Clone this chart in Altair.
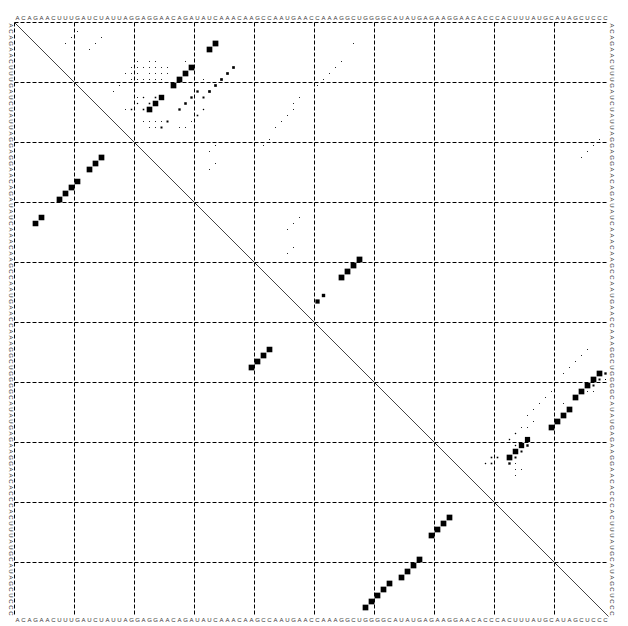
import math
import altair as alt
import pandas as pd

# RNA sequence (5' -> 3')
sequence = "ACAGAACUUUGAUCUAUUAGGAGGAACAGAUAUCAAACAAGCCAAUGAACCAAAGGCUGGGGCAUAUGAGAAGGAACACCCACUUUAUGCAUAGCUCCC"

# MFE structure pairs (lower-left triangle)
mfe_i = [4, 5, 8, 9, 10, 11, 13, 14, 15, 40, 41, 42, 43,
         59, 60, 61, 62, 63, 65, 66, 67, 68, 70, 71, 72, 73]
mfe_j = [34, 33, 30, 29, 28, 27, 25, 24, 23, 58, 57, 56, 55,
         98, 97, 96, 95, 94, 93, 92, 91, 90, 86, 85, 84, 83]

# base pair probabilities (upper-right triangle)
bp_i = [4, 5, 8, 9, 10, 11, 13, 14, 15, 40, 41, 42, 43,
        59, 60, 61, 62, 63, 65, 66, 67, 68, 70, 71, 72, 73,
        46, 47,
        8, 9, 10, 11, 12, 13, 12, 13, 14, 15, 15, 16, 17, 18,
        13, 13, 14, 15, 14, 15, 13, 15,
        59, 60, 61, 71, 72, 73, 74, 73, 73, 74, 74, 71, 70, 69,
        2, 3, 4, 3, 4, 5,
        7, 7, 7, 7, 8, 8, 8, 8, 8, 8, 8, 9, 9, 9, 9, 9, 9, 9,
        10, 10, 10, 10, 10, 10, 10, 11, 12,
        17, 17, 17, 17, 17, 18, 18, 18, 18,
        4, 7, 8, 9, 10, 11, 13, 14, 15, 16, 17, 18, 20, 21,
        20, 21, 22, 23, 21, 22, 24, 25,
        33, 34, 35, 38, 39,
        55, 56, 57, 58, 59, 62, 63, 64, 65, 64, 62, 62, 66, 67,
        68, 68, 74, 75, 75, 76, 60]
bp_j = [34, 33, 30, 29, 28, 27, 25, 24, 23, 58, 57, 56, 55,
        98, 97, 96, 95, 94, 93, 92, 91, 90, 86, 85, 84, 83,
        52, 51,
        37, 36, 35, 34, 33, 32, 31, 30, 29, 28, 32, 31, 26, 25,
        24, 22, 23, 22, 21, 20, 21, 19,
        99, 98, 97, 86, 85, 84, 83, 81, 80, 79, 80, 84, 83, 84,
        11, 10, 9, 15, 14, 13,
        21, 23, 24, 29, 20, 21, 22, 23, 24, 25, 26, 19, 20, 21, 23, 24, 25, 26,
        20, 21, 22, 23, 24, 25, 32, 18, 17,
        22, 23, 24, 25, 30, 23, 24, 28, 29,
        57, 55, 54, 53, 52, 51, 48, 47, 47, 46, 45, 44, 43, 42,
        98, 97, 96, 95, 34, 33, 34, 33,
        48, 47, 46, 47, 46,
        96, 95, 94, 93, 92, 90, 89, 88, 87, 92, 96, 97, 86, 87,
        85, 86, 84, 84, 85, 84, 99]
bp_p = [0.92, 0.9, 0.9, 0.9, 0.9, 0.9, 0.82, 0.86, 0.88, 0.92, 0.92, 0.92, 0.92,
        0.9, 0.9, 0.9, 0.9, 0.9, 0.9, 0.9, 0.9, 0.9, 0.75, 0.8, 0.85, 0.9,
        0.32, 0.5,
        0.2, 0.2, 0.2, 0.2, 0.2, 0.11, 0.15, 0.15, 0.18, 0.15, 0.05, 0.07, 0.11, 0.11,
        0.07, 0.05, 0.07, 0.07, 0.04, 0.06, 0.02, 0.02,
        0.15, 0.11, 0.11, 0.15, 0.11, 0.11, 0.15, 0.07, 0.07, 0.05, 0.07, 0.05, 0.05, 0.05,
        0.02, 0.02, 0.02, 0.02, 0.02, 0.02,
        0.02, 0.02, 0.02, 0.02, 0.02, 0.02, 0.02, 0.02, 0.02, 0.02, 0.02,
        0.02, 0.02, 0.02, 0.02, 0.02, 0.02, 0.02,
        0.02, 0.02, 0.02, 0.02, 0.02, 0.02, 0.02, 0.02, 0.02,
        0.02, 0.02, 0.02, 0.02, 0.02, 0.02, 0.02, 0.02, 0.02,
        0.02, 0.02, 0.02, 0.02, 0.02, 0.02, 0.02, 0.02, 0.02, 0.02, 0.02, 0.02, 0.02, 0.02,
        0.02, 0.02, 0.02, 0.02, 0.02, 0.02, 0.02, 0.02,
        0.02, 0.02, 0.02, 0.02, 0.02,
        0.02, 0.02, 0.02, 0.02, 0.02, 0.02, 0.02, 0.02, 0.02, 0.02, 0.02, 0.02, 0.02, 0.02,
        0.02, 0.02, 0.02, 0.02, 0.02, 0.02, 0.03]

grid_pos = [0.5, 10.5, 20.5, 30.5, 40.5, 50.5, 60.5, 70.5, 80.5, 90.5]
mfe_box = 0.95

n = len(sequence)
lo, hi = 0.5, n + 0.5

# boxes table
rows = []
for i, j, p in zip(bp_i, bp_j, bp_p):
    h = math.sqrt(p) / 2
    rows.append({"x1": j - h, "x2": j + h, "y1": i - h, "y2": i + h})
for i, j in zip(mfe_i, mfe_j):
    h = mfe_box / 2
    rows.append({"x1": i - h, "x2": i + h, "y1": j - h, "y2": j + h})
boxes = pd.DataFrame(rows)

nts = pd.DataFrame({"pos": list(range(1, n + 1)), "nt": list(sequence)})
grid = pd.DataFrame({"g": grid_pos, "lo": lo, "hi": hi})
diag = pd.DataFrame({"a": [lo], "b": [hi]})

W = 594
sx = alt.Scale(domain=[lo, hi], nice=False, zero=False)
sy = alt.Scale(domain=[lo, hi], nice=False, zero=False, reverse=True)

box_layer = alt.Chart(boxes).mark_rect(color="black", strokeWidth=0).encode(
    x=alt.X("x1:Q", scale=sx, axis=None), x2="x2:Q",
    y=alt.Y("y1:Q", scale=sy, axis=None), y2="y2:Q")

vgrid = alt.Chart(grid).mark_rule(color="black", strokeWidth=1, strokeDash=[4, 2]).encode(
    x=alt.X("g:Q", scale=sx, axis=None),
    y=alt.Y("lo:Q", scale=sy, axis=None), y2="hi:Q")
hgrid = alt.Chart(grid).mark_rule(color="black", strokeWidth=1, strokeDash=[4, 2]).encode(
    y=alt.Y("g:Q", scale=sy, axis=None),
    x=alt.X("lo:Q", scale=sx, axis=None), x2="hi:Q")

diag_layer = alt.Chart(diag).mark_rule(color="#444444", strokeWidth=1).encode(
    x=alt.X("a:Q", scale=sx, axis=None), y=alt.Y("a:Q", scale=sy, axis=None),
    x2="b:Q", y2="b:Q")

txt = dict(fontSize=6, font="Liberation Sans", color="#333333", align="center", baseline="middle")
top_lab = alt.Chart(nts).mark_text(**txt).encode(
    x=alt.X("pos:Q", scale=sx, axis=None), y=alt.value(-4.5), text="nt:N")
bot_lab = alt.Chart(nts).mark_text(**txt).encode(
    x=alt.X("pos:Q", scale=sx, axis=None), y=alt.value(W + 3), text="nt:N")
left_lab = alt.Chart(nts).mark_text(angle=90, **txt).encode(
    y=alt.Y("pos:Q", scale=sy, axis=None), x=alt.value(-4), text="nt:N")
right_lab = alt.Chart(nts).mark_text(angle=90, **txt).encode(
    y=alt.Y("pos:Q", scale=sy, axis=None), x=alt.value(W + 3.5), text="nt:N")

chart = alt.layer(vgrid, hgrid, diag_layer, box_layer, top_lab, bot_lab, left_lab, right_lab).properties(
    width=W, height=W,
    padding={"left": 6.5, "top": 14.5, "right": 9, "bottom": 7},
    autosize=alt.AutoSizeParams(type="none"),
    background="white",
).configure_view(stroke=None)

chart.save("out.html", embed_options={"renderer": "svg", "actions": False})
